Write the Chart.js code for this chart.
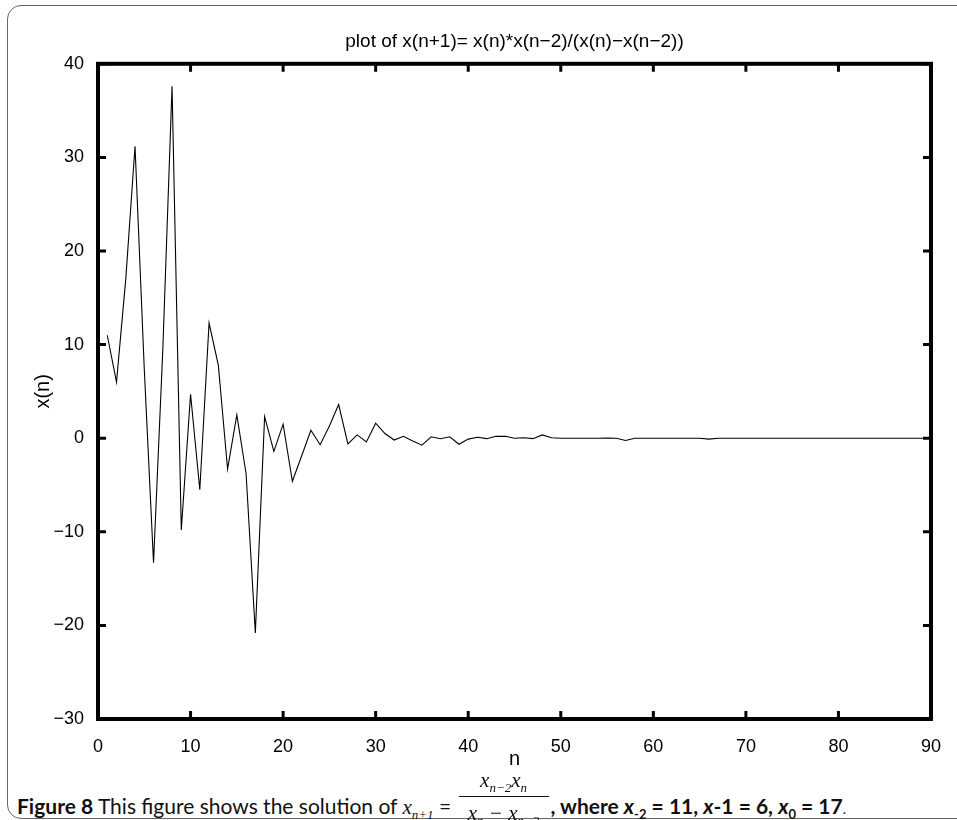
<!DOCTYPE html>
<html>
<head>
<meta charset="utf-8">
<script src="https://cdn.jsdelivr.net/npm/chart.js@4.4.1/dist/chart.umd.min.js"></script>
<style>
  html, body { margin: 0; padding: 0; background: #fff; }
  body { width: 957px; height: 820px; position: relative; overflow: hidden; }
  #frame { position: absolute; left: 7px; top: 5px; width: 1000px; height: 812px;
           border: 1.5px solid #666; border-radius: 14px; }
  #chartCanvas { position: absolute; left: 0; top: 0; }
  #caption { position: absolute; left: 17px; top: 793px; font-family: Lato, sans-serif;
             font-size: 21px; line-height: 25px; white-space: nowrap; color: #111; }
  .m { font-family: "Liberation Serif", serif; font-style: italic; font-size: 21px; }
  #caption sub { font-size: 13px; line-height: 0; }
  .frac { display: inline-block; position: relative; width: 90px; height: 0; margin: 0 2px; }
  .frac .num, .frac .den { position: absolute; left: 0; right: 0; text-align: center; line-height: 24px; }
  .frac .num { top: -46px; }
  .frac .den { top: -13px; }
  .frac .bar { position: absolute; left: 0; right: 0; top: -18px; border-top: 1.3px solid #111; }
</style>
</head>
<body>
<div id="frame"></div>
<canvas id="chartCanvas" width="957" height="780"></canvas>
<div id="caption"><b>Figure 8</b> This figure shows the solution of <span class="m">x<sub>n+1</sub></span> = <span class="frac m"><span class="num">x<sub>n−2</sub>x<sub>n</sub></span><span class="bar"></span><span class="den">x<sub>n</sub> − x<sub>n−2</sub></span></span><b>, where <i>x</i><sub>-2</sub> = 11, <i>x</i>-1 = 6, <i>x</i><sub>0</sub> = 17</b><span style="font-size:14px">.</span></div>
<script>
const chartCanvas = document.getElementById("chartCanvas").getContext("2d");

// values, n = 1..90
const xn = [
  11, 6, 17, 31.2, 7.4, -13.3, 9.4, 37.6, -9.8, 4.7,
  -5.5, 12.3, 7.8, -3.3, 2.5, -3.8, -20.8, 2.3, -1.4, 1.5,
  -4.6, -1.9, 0.85, -0.7, 1.3, 3.6, -0.6, 0.35, -0.4, 1.6,
  0.5, -0.2, 0.2, -0.3, -0.75, 0.15, -0.05, 0.15, -0.65, -0.1,
  0.1, -0.05, 0.2, 0.2, 0, 0.05, -0.05, 0.35, 0.05, 0,
  0, 0, 0, 0, 0.02, 0, -0.25, 0, 0, 0,
  0, 0, 0, 0, 0, -0.1, 0, 0, 0, 0,
  0, 0, 0, 0, 0, 0, 0, 0, 0, 0,
  0, 0, 0, 0, 0, 0, 0, 0, 0, 0
];
const xTicks = [0, 10, 20, 30, 40, 50, 60, 70, 80, 90];
const yTicks = [-30, -20, -10, 0, 10, 20, 30, 40];

const points = xn.map((v, i) => ({ x: i + 1, y: v }));

// matlab style box with inward ticks on every side
const boxTicks = {
  id: "boxTicks",
  afterDatasetsDraw(chart) {
    const { ctx, chartArea: a, scales: { x, y } } = chart;
    ctx.save();
    ctx.strokeStyle = "#000";
    ctx.lineWidth = 3;
    ctx.beginPath();
    xTicks.forEach(v => {
      const px = x.getPixelForValue(v);
      ctx.moveTo(px, a.bottom); ctx.lineTo(px, a.bottom - 8);
      ctx.moveTo(px, a.top); ctx.lineTo(px, a.top + 8);
    });
    yTicks.forEach(v => {
      const py = y.getPixelForValue(v);
      ctx.moveTo(a.left, py); ctx.lineTo(a.left + 8, py);
      ctx.moveTo(a.right, py); ctx.lineTo(a.right - 8, py);
    });
    ctx.stroke();
    ctx.lineWidth = 4;
    ctx.strokeRect(a.left, a.top, a.right - a.left, a.bottom - a.top);
    ctx.restore();
  }
};

const tickFont = { family: "'Liberation Sans', Arial, sans-serif", size: 18 };
const labelFont = { family: "'Liberation Sans', Arial, sans-serif", size: 20 };

new Chart(chartCanvas, {
  type: "line",
  data: {
    datasets: [{
      data: points,
      borderColor: "#000",
      borderWidth: 1.1,
      pointRadius: 0,
      tension: 0,
      fill: false
    }]
  },
  options: {
    responsive: false,
    animation: false,
    events: [],
    layout: { padding: { left: 20, right: 26, top: 30, bottom: 6 } },
    plugins: {
      legend: { display: false },
      tooltip: { enabled: false },
      title: {
        display: true,
        fullSize: false,
        text: "plot of x(n+1)= x(n)*x(n\u22122)/(x(n)\u2212x(n\u22122))",
        color: "#000",
        font: { family: "'Liberation Sans', Arial, sans-serif", size: 19, weight: "normal" },
        padding: { top: 0, bottom: 11 }
      }
    },
    scales: {
      x: {
        type: "linear",
        min: 0,
        max: 90,
        afterFit: s => { s.height = 55; },
        afterBuildTicks: s => { s.ticks = xTicks.map(v => ({ value: v })); },
        grid: { display: false },
        border: { display: false },
        ticks: { color: "#000", font: tickFont, padding: 9, maxRotation: 0 },
        title: { display: true, text: "n", color: "#000", font: labelFont, padding: { bottom: 3 } }
      },
      y: {
        min: -30,
        max: 40,
        afterFit: s => { s.width = 78; },
        afterBuildTicks: s => { s.ticks = yTicks.map(v => ({ value: v })); },
        grid: { display: false },
        border: { display: false },
        ticks: {
          color: "#000", font: tickFont, padding: 6,
          callback: v => String(v).replace("-", "\u2212")
        },
        title: { display: true, text: "x(n)", color: "#000", font: labelFont, padding: { top: 11 } }
      }
    }
  },
  plugins: [boxTicks]
});
</script>
</body>
</html>
